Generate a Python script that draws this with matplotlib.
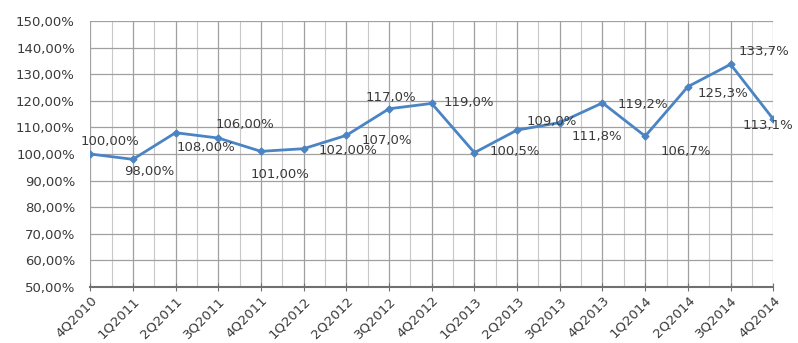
import numpy as np
import matplotlib
matplotlib.use('Agg')
import matplotlib.pyplot as plt
from matplotlib.ticker import FuncFormatter, MultipleLocator

# datos
quarters = ['4Q2010', '1Q2011', '2Q2011', '3Q2011', '4Q2011', '1Q2012', '2Q2012', '3Q2012', '4Q2012',
            '1Q2013', '2Q2013', '3Q2013', '4Q2013', '1Q2014', '2Q2014', '3Q2014', '4Q2014']
values = [100.0, 98.0, 108.0, 106.0, 101.0, 102.0, 107.0, 117.0, 119.0,
          100.5, 109.0, 111.8, 119.2, 106.7, 125.3, 133.7, 113.1]
labels = ['100,00%', '98,00%', '108,00%', '106,00%', '101,00%', '102,00%', '107,0%', '117,0%', '119,0%',
          '100,5%', '109,0%', '111,8%', '119,2%', '106,7%', '125,3%', '133,7%', '113,1%']
# desplazamientos de etiquetas (puntos, centro del texto)
offsets = [(14, 9), (12, -9), (22, -11), (19, 9.5), (14, -17), (32, -1), (29, -4), (1, 8), (27, 1),
           (29, 1), (25, 6), (27, -10), (29, -1), (29, -11), (25, -5), (24, 9), (-4, -4.5)]

line_color = '#4a84c4'
text_color = '#3a3a3a'
grid_color = '#a0a0a0'

fig = plt.figure(figsize=[7.98, 3.43], dpi=100)
ax = fig.add_axes([0.113, 0.163, 0.856, 0.776])

x = np.arange(len(quarters))
ax.plot(x, values, '-', color=line_color, linewidth=2.0, marker='D', markersize=3.5, zorder=3)

for xi, v, lab, off in zip(x, values, labels, offsets):
    ax.annotate(lab, (xi, v), xytext=off, textcoords='offset points',
                ha='center', va='center', fontsize=9.5, color=text_color, zorder=4,
                annotation_clip=False)

ax.set_xlim(0, len(quarters) - 1)
ax.set_ylim(50, 150)
ax.yaxis.set_major_locator(MultipleLocator(10))
ax.yaxis.set_major_formatter(FuncFormatter(lambda v, p: f'{v:.2f}'.replace('.', ',') + '%'))
ax.set_xticks(x)
ax.set_xticklabels(quarters, rotation=45, ha='right', rotation_mode='anchor')
ax.set_xticks(x[:-1] + 0.5, minor=True)

ax.grid(True, which='major', color=grid_color, linewidth=0.9)
ax.grid(True, which='minor', axis='x', color='#c8c8c8', linewidth=0.8)
ax.set_axisbelow(True)

for s in ['top', 'right', 'left']:
    ax.spines[s].set_visible(False)
ax.spines['bottom'].set_color('#707070')
ax.spines['bottom'].set_linewidth(1.5)

ax.tick_params(axis='y', length=0, labelsize=9.5, labelcolor=text_color, pad=11)
ax.tick_params(axis='x', which='major', direction='inout', length=6, color='#707070',
               labelsize=9.5, labelcolor=text_color, pad=2)
ax.tick_params(axis='x', which='minor', length=0)

plt.savefig('out.png', dpi=100)
plt.close()
